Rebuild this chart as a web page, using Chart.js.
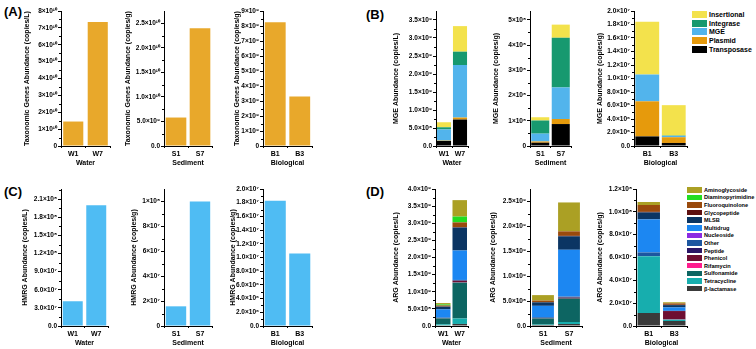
<!DOCTYPE html>
<html>
<head>
<meta charset="utf-8">
<script src="https://cdn.jsdelivr.net/npm/chart.js@4.4.1/dist/chart.umd.min.js"></script>
<style>
  body { margin: 0; width: 756px; height: 349px; position: relative; overflow: hidden; background: #fff;
         font-family: "Liberation Sans", Arial, sans-serif; color: #000; }
  canvas { position: absolute; }
  .tag { position: absolute; font-weight: bold; font-size: 13px; line-height: 13px; }
  .legend { position: absolute; font-weight: bold; }
  .legend .row { display: flex; align-items: center; white-space: nowrap; }
  .legend .sw { flex: none; }
</style>
</head>
<body>
<div class="tag" style="left:4px;top:5px">(A)</div>
<div class="tag" style="left:366px;top:8px">(B)</div>
<div class="tag" style="left:4px;top:185px">(C)</div>
<div class="tag" style="left:366px;top:185px">(D)</div>
<div class="legend" id="mgeLegend" style="left:692px;top:10px"></div>
<div class="legend" id="argLegend" style="left:687px;top:186px"></div>

<script>
// ---- categories ----
const waterLabels = ["W1", "W7"];
const sedimentLabels = ["S1", "S7"];
const bioLabels = ["B1", "B3"];

// ---- (A) taxonomic genes ----
const taxWater = [1.45e10, 7.35e10];
const taxSediment = [5.8e9, 2.4e10];
const taxBio = [8.25e9, 3.3e9];

// ---- (C) HMRG ----
const hmrgWater = [4.1e7, 2.0e8];
const hmrgSediment = [1.58e7, 1.0e8];
const hmrgBio = [1.83e7, 1.06e7];

// ---- (B) MGE, stacked bottom -> top ----
const mgeTypes = ["Transposase", "Plasmid", "MGE", "Integrase", "Insertional"];
const mgeColors = ["#000000", "#E69A0C", "#52B4EC", "#17996F", "#F3E24C"];
const mgeWater = [[1.4e8, 7.35e8], [1.0e7, 5.5e7], [3.1e8, 1.46e9], [6.0e7, 3.7e8], [1.4e8, 7.1e8]];
const mgeSediment = [[1.3e7, 8.7e7], [5.0e6, 2.0e7], [3.1e7, 1.25e8], [5.2e7, 1.97e8], [1.3e7, 5.2e7]];
const mgeBio = [[1.42e6, 4.5e5], [5.2e6, 8.5e5], [3.97e6, 2.0e5], [0, 5.0e4], [7.8e6, 4.5e6]];

// ---- (D) ARG, stacked bottom -> top ----
const argTypes = ["β-lactamase", "Tetracycline", "Sulfonamide", "Rifamycin", "Phenicol", "Peptide", "Other",
  "Nucleoside", "Multidrug", "MLSB", "Glycopeptide", "Fluoroquinolone", "Diaminopyrimidine", "Aminoglycoside"];
const argColors = ["#3A3A3A", "#17AEAE", "#0D6562", "#FF1C8E", "#6E0E32", "#2B1666", "#1C56A0",
  "#8B2BE2", "#1C87F2", "#0B3563", "#5E1010", "#9A4A0C", "#22DD22", "#ABA024"];
const argWater = [[2e7, 6e7], [3e7, 1.6e8], [1.7e8, 1.05e9], [0, 1e7], [5e6, 4e7], [0, 5e6], [2e7, 2e7],
  [0, 0], [2.4e8, 8.6e8], [8e7, 6.7e8], [5e6, 1e7], [3e7, 1.4e8], [3e7, 1.7e8], [4e7, 4.8e8]];
const argSediment = [[2e7, 4e7], [1e7, 4e7], [1.2e8, 4.7e8], [0, 0], [5e6, 2e7], [0, 0], [2e7, 2e7],
  [0, 0], [2.3e8, 9.4e8], [7e7, 2.7e8], [5e6, 1e7], [3e7, 9e7], [0, 0], [1.1e8, 5.8e8]];
const argBio = [[1.14e7, 4.4e6], [4.98e7, 1.2e6], [0, 0], [0, 2e5], [0, 7.3e6], [0, 0], [3.2e6, 2e5],
  [0, 0], [2.9e7, 3.0e6], [6.1e6, 2.0e6], [5e5, 3e5], [6.0e6, 1.2e6], [0, 0], [2.6e6, 1.0e6]];

const GOLD = "#E8A82B";
const SKY = "#4FBCF3";

const SUP = { "-": "⁻", "0": "⁰", "1": "¹", "2": "²", "3": "³", "4": "⁴", "5": "⁵", "6": "⁶", "7": "⁷", "8": "⁸", "9": "⁹" };
const sci = (dec) => (v) => {
  if (Math.abs(v) < 1e-3) return dec ? "0." + "0".repeat(dec) : "0";
  let e = Math.floor(Math.log10(v) + 1e-9);
  let m = +(v / Math.pow(10, e)).toFixed(dec);
  if (m >= 10) { m /= 10; e += 1; }
  return m.toFixed(dec) + "×10" + String(e).split("").map((c) => SUP[c]).join("");
};

const stackSets = (names, colors, values) =>
  names.map((n, i) => ({ label: n, data: values[i], color: colors[i] }));

const ROWS = [{ top: 11, bottom: 146 }, { top: 189, bottom: 326 }];

const panels = [
  { row: 0, tx: 27, left: 61, right: 110, labels: waterLabels, group: "Water", yTitle: "Taxonomic Genes Abundance (copies/L)", max: 8e10, step: 1e10, dec: 0, bar: 0.82, sets: [{ data: taxWater, color: GOLD }] },
  { row: 0, tx: 128, left: 164, right: 212, labels: sedimentLabels, group: "Sediment", yTitle: "Taxonomic Genes Abundance (copies/g)", max: 2.75e10, step: 5e9, dec: 1, bar: 0.86, sets: [{ data: taxSediment, color: GOLD }] },
  { row: 0, tx: 237, left: 263, right: 312, labels: bioLabels, group: "Biological", yTitle: "Taxonomic Genes Abundance (copies/g)", max: 9e9, step: 1e9, dec: 0, bar: 0.85, sets: [{ data: taxBio, color: GOLD }] },
  { row: 0, tx: 396, left: 436, right: 468, labels: waterLabels, group: "Water", yTitle: "MGE Abundance (copies/L)", max: 3.75e9, step: 5e8, dec: 1, bar: 0.88, stacked: true, sets: stackSets(mgeTypes, mgeColors, mgeWater) },
  { row: 0, tx: 496, left: 530, right: 571, labels: sedimentLabels, group: "Sediment", yTitle: "MGE Abundance (copies/g)", max: 5.35e8, step: 1e8, dec: 0, bar: 0.88, stacked: true, sets: stackSets(mgeTypes, mgeColors, mgeSediment) },
  { row: 0, tx: 600, left: 634, right: 687, labels: bioLabels, group: "Biological", yTitle: "MGE Abundance (copies/g)", max: 2.0e7, step: 2e6, dec: 1, bar: 0.9, stacked: true, sets: stackSets(mgeTypes, mgeColors, mgeBio) },
  { row: 1, tx: 25, left: 61, right: 108, labels: waterLabels, group: "Water", yTitle: "HMRG Abundance (copies/L)", max: 2.27e8, step: 3e7, dec: 1, bar: 0.85, sets: [{ data: hmrgWater, color: SKY }] },
  { row: 1, tx: 134, left: 164, right: 212, labels: sedimentLabels, group: "Sediment", yTitle: "HMRG Abundance (copies/g)", max: 1.1e8, step: 2e7, dec: 0, bar: 0.85, sets: [{ data: hmrgSediment, color: SKY }] },
  { row: 1, tx: 233, left: 263, right: 312, labels: bioLabels, group: "Biological", yTitle: "HMRG Abundance (copies/g)", max: 2.0e7, step: 2e6, dec: 1, bar: 0.86, sets: [{ data: hmrgBio, color: SKY }] },
  { row: 1, tx: 396, left: 435, right: 468, labels: waterLabels, group: "Water", yTitle: "ARG Abundance (copies/L)", max: 4.0e9, step: 5e8, dec: 1, bar: 0.88, stacked: true, sets: stackSets(argTypes, argColors, argWater) },
  { row: 1, tx: 493, left: 530, right: 582, labels: sedimentLabels, group: "Sediment", yTitle: "ARG Abundance (copies/g)", max: 2.75e9, step: 5e8, dec: 1, bar: 0.84, stacked: true, sets: stackSets(argTypes, argColors, argSediment) },
  { row: 1, tx: 600, left: 636, right: 687, labels: bioLabels, group: "Biological", yTitle: "ARG Abundance (copies/g)", max: 1.2e8, step: 2e7, dec: 1, bar: 0.88, stacked: true, sets: stackSets(argTypes, argColors, argBio) },
];

// small unlabeled ticks halfway between the labelled ones
const minorTicks = {
  id: "minorTicks",
  afterDraw(chart) {
    const y = chart.scales.y;
    const vals = y.ticks.map((t) => t.value);
    if (vals.length < 2) return;
    const step = vals[1] - vals[0];
    const ctx = chart.ctx;
    ctx.save();
    ctx.strokeStyle = "#000";
    ctx.lineWidth = 1;
    ctx.beginPath();
    for (let v = step / 2; v < y.max; v += step) {
      const py = Math.round(y.getPixelForValue(v)) + 0.5;
      ctx.moveTo(y.right - 2, py);
      ctx.lineTo(y.right, py);
    }
    ctx.stroke();
    ctx.restore();
  },
};

Chart.defaults.color = "#000";
Chart.defaults.font.family = '"Liberation Sans", Arial, sans-serif';

const buildPanel = (p) => {
  const r = ROWS[p.row];
  const cl = Math.round(p.tx - 4);
  const ct = r.top - 6;
  const w = p.right - cl + 4;
  const h = r.bottom - ct + 21;
  const canvas = document.createElement("canvas");
  canvas.width = w;
  canvas.height = h;
  canvas.style.left = cl + "px";
  canvas.style.top = ct + "px";
  document.body.appendChild(canvas);

  new Chart(canvas.getContext("2d"), {
    type: "bar",
    data: {
      labels: p.labels,
      datasets: p.sets.map((s) => ({
        label: s.label || "",
        data: s.data,
        backgroundColor: s.color,
        borderWidth: 0,
        barPercentage: p.bar,
        categoryPercentage: 1,
      })),
    },
    options: {
      responsive: false,
      animation: false,
      layout: { padding: { top: 6, right: 4, left: 0, bottom: 0 } },
      plugins: { legend: { display: false }, tooltip: { enabled: false } },
      scales: {
        x: {
          stacked: !!p.stacked,
          afterFit: (s) => { s.height = 21; },
          border: { display: true, color: "#000", width: 1 },
          grid: { display: true, drawOnChartArea: false, drawTicks: true, tickLength: 2, color: "#000" },
          ticks: { padding: 2, autoSkip: false, maxRotation: 0, minRotation: 0, font: { size: 7, weight: "bold" } },
          title: { display: true, text: p.group, padding: 0, font: { size: 7, weight: "bold" } },
        },
        y: {
          stacked: !!p.stacked,
          min: 0,
          max: p.max,
          afterFit: (s) => { s.width = p.left - cl; },
          afterBuildTicks: (s) => {
            const t = [];
            for (let v = 0; v <= p.max * 1.0001; v += p.step) t.push({ value: v });
            s.ticks = t;
          },
          border: { display: true, color: "#000", width: 1 },
          grid: { display: true, drawOnChartArea: false, drawTicks: true, tickLength: 3, color: "#000" },
          ticks: { autoSkip: false, padding: 1, font: { size: 6.5, weight: "bold" }, callback: sci(p.dec) },
          title: { display: true, text: p.yTitle, padding: 0, font: { size: 7, weight: "bold" } },
        },
      },
    },
    plugins: [minorTicks],
  });
};

panels.forEach(buildPanel);

// ---- legends (top entry = top of stack) ----
const buildLegend = (id, names, colors, rowH, swW, swH, fontSize) => {
  const box = document.getElementById(id);
  for (let i = names.length - 1; i >= 0; i--) {
    const row = document.createElement("div");
    row.className = "row";
    row.style.height = rowH + "px";
    row.style.fontSize = fontSize + "px";
    const sw = document.createElement("div");
    sw.className = "sw";
    sw.style.width = swW + "px";
    sw.style.height = swH + "px";
    sw.style.background = colors[i];
    sw.style.marginRight = "2px";
    const tx = document.createElement("span");
    tx.textContent = names[i];
    row.appendChild(sw);
    row.appendChild(tx);
    box.appendChild(row);
  }
};
buildLegend("mgeLegend", mgeTypes, mgeColors, 8.8, 15, 7, 7);
buildLegend("argLegend", argTypes, argColors, 7.6, 15, 5.5, 5.6);
</script>
</body>
</html>
